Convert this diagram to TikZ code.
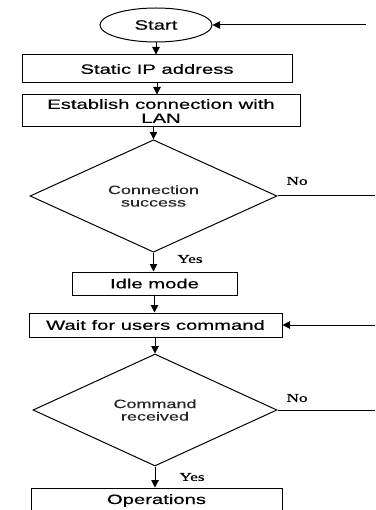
\documentclass[tikz,border=0pt]{standalone}
\usepackage{fontspec}
\usetikzlibrary{shapes.geometric,arrows.meta}
\newfontfamily\sfw[FakeStretch=1.5,FakeBold=0.5]{Liberation Sans}
\newfontfamily\sfd[FakeStretch=1.5,FakeBold=0.4]{Liberation Sans}
\newfontfamily\sew[FakeStretch=1.45,FakeBold=0.6]{Liberation Serif}
\definecolor{dtext}{HTML}{262626}
\begin{document}
\begin{tikzpicture}[x=1pt,y=-1pt,
  ln/.style={line width=1pt,draw=black},
  arr/.style={ln,-{Triangle[length=7.5pt,width=7.5pt]}},
  box/.style={ln,rectangle,inner sep=0pt,font=\sfw\fontsize{13.5}{14}\selectfont,align=center},
  dia/.style={ln,diamond,inner sep=0pt,text=dtext,font=\sfd\fontsize{12}{12.5}\selectfont,align=center},
  lab/.style={inner sep=0pt,font=\sew\fontsize{12}{13}\selectfont}]
\clip (0,0) rectangle (375,510);
\useasboundingbox (0,0) rectangle (375,510);
\node[ln,ellipse,inner sep=0pt,minimum width=112pt,minimum height=34pt,font=\sfw\fontsize{13.5}{14}\selectfont] (start) at (156,25) {Start};
\node[box,minimum width=270pt,minimum height=28pt] (stat) at (157,69) {Static IP address};
\node[box,minimum width=278pt,minimum height=32pt] (est) at (161,111) {Establish connection with\\LAN};
\node[dia,minimum width=247pt,minimum height=112pt] (d1) at (153.5,196) {Connection\\success};
\node[box,minimum width=165pt,minimum height=23pt] (idle) at (154.5,283.5) {Idle mode};
\node[box,minimum width=253pt,minimum height=24pt] (wait) at (155.5,325) {Wait for users command};
\node[dia,minimum width=244pt,minimum height=112pt] (d2) at (155,410) {Command\\received};
\node[box,minimum width=251pt,inner ysep=0pt,text height=16pt,text depth=16pt] (ops) at (156.5,504) {Operations};
\node[lab] (no1) at (297,181) {No};
\node[lab] (no2) at (297,398) {No};
\node[lab] (yes1) at (190,259) {Yes};
\node[lab] (yes2) at (192,477) {Yes};
\coordinate (r0) at (366,25);
\coordinate (r1) at (375,196);
\coordinate (r2) at (375,325);
\coordinate (r3) at (375,410);
\draw[arr] (start.south) -- (start.south |- stat.north);
\draw[arr] (stat.south) -- (stat.south |- est.north);
\draw[arr] (est.south -| d1.north) -- (d1.north);
\draw[arr] (d1.south) -- (d1.south |- idle.north);
\draw[arr] (idle.south) -- (idle.south |- wait.north);
\draw[arr] (wait.south -| d2.north) -- (d2.north);
\draw[arr] (d2.south) -- (d2.south |- ops.north);
\draw[arr] (r0) -- (start.east);
\draw[ln] (d1.east) -- (r1);
\draw[arr] (r2) -- (wait.east);
\draw[ln] (d2.east) -- (r3);
\end{tikzpicture}
\end{document}
